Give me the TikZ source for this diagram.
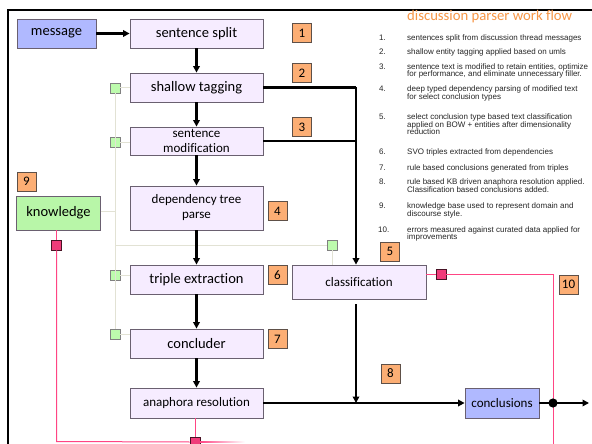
\documentclass[tikz,border=0pt]{standalone}
\usepackage{fontspec}
\setmainfont{Carlito}[Ligatures=NoCommon]
\newfontfamily\arialf{Liberation Sans}
\usetikzlibrary{arrows.meta,calc}
\definecolor{procfill}{HTML}{F6ECFF}
\definecolor{procdraw}{HTML}{6A6070}
\definecolor{bluefill}{HTML}{B0B9FF}
\definecolor{greenfill}{HTML}{B8F6A8}
\definecolor{numfill}{HTML}{FCAE74}
\definecolor{numdraw}{HTML}{5E5048}
\definecolor{sqgreen}{HTML}{BDFBAD}
\definecolor{pinkline}{HTML}{FF4584}
\definecolor{pinkfill}{HTML}{F03C7A}
\definecolor{grayline}{HTML}{E2E2D4}
\definecolor{titleor}{HTML}{F79646}
\tikzset{
  x=1pt, y=-1pt,
  proc/.style={draw=procdraw, fill=procfill, line width=0.8pt, inner sep=0pt,
    minimum width=133pt, minimum height=29pt, align=center,
    font=\fontsize{14.5}{16}\selectfont},
  procsm/.style={proc, font=\fontsize{13}{15}\selectfont},
  numbox/.style={draw=numdraw, fill=numfill, line width=0.7pt, inner sep=0pt,
    minimum width=19pt, minimum height=19pt, font=\fontsize{13}{14}\selectfont},
  gsq/.style={draw=gray, fill=sqgreen, line width=0.6pt, inner sep=0pt, minimum size=10pt},
  psq/.style={draw=black!70!pinkfill, fill=pinkfill, line width=0.6pt, inner sep=0pt, minimum size=10pt},
  gline/.style={draw=grayline, line width=1pt},
  pline/.style={draw=pinkline, line width=1pt},
  flow/.style={draw=black, line width=2.5pt},
  flowarr/.style={flow, -{Triangle[length=6.5pt,width=6.5pt]}, shorten >=0pt},
  listtxt/.style={anchor=base west, inner sep=0pt, text=black!85, font=\arialf\fontsize{8}{8}\selectfont},
}
\begin{document}
\begin{tikzpicture}
\useasboundingbox (0,0) rectangle (592,444);
\clip (0,0) rectangle (592,444);
\fill[white] (0,0) rectangle (592,444);
% frame
\draw[line width=2.5pt] (8,480) -- (8,10) -- (620,10);

% process nodes
\node[proc, minimum width=79pt, fill=bluefill] (message) at (56.5,33.5) {message};
\node[proc] (split) at (196.5,33.5) {sentence split};
\node[proc] (shallow) at (196.5,87.5) {shallow tagging};
\node[procsm, minimum height=28pt] (modif) at (196.5,141) {sentence\\modification};
\node[procsm, minimum height=44pt] (dep) at (196.5,208) {dependency tree\\parse};
\node[proc] (triple) at (196.5,279.5) {triple extraction};
\node[proc] (concl) at (196.5,343.5) {concluder};
\node[procsm, minimum height=30pt] (anaph) at (196.5,403) {anaphora resolution};
\node[procsm, minimum width=134pt, minimum height=34pt] (classif) at (359,282) {classification};
\node[procsm, minimum width=74pt, minimum height=30pt, fill=bluefill] (conclusions) at (502,403) {conclusions};
\node[proc, minimum width=84pt, minimum height=34pt, fill=greenfill] (knowledge) at (58.5,213) {knowledge};

% number boxes
\node[numbox] (n1) at (302,33) {1};
\node[numbox] (n2) at (302,73) {2};
\node[numbox] (n3) at (302,127) {3};
\node[numbox] (n4) at (277.5,211) {4};
\node[numbox] (n5) at (390,251.5) {5};
\node[numbox] (n6) at (277.5,275) {6};
\node[numbox] (n7) at (277.5,339) {7};
\node[numbox] (n8) at (390.5,373.5) {8};
\node[numbox] (n9) at (26.5,181.5) {9};
\node[numbox] (n10) at (568.5,284.5) {10};

% gray connectors and green squares
\node[gsq] (g1) at (115,88) {};
\node[gsq] (g2) at (115,142) {};
\node[gsq] (g3) at (115,275) {};
\node[gsq] (g4) at (115,334) {};
\node[gsq] (g5) at (332,245) {};
\coordinate (gj) at (115,245);
\coordinate (gk) at (115,211);
\draw[gline] (g1.south) -- (g4.north);
\draw[gline] (g1.east) -- (shallow.west |- g1);
\draw[gline] (g2.east) -- (modif.west |- g2);
\draw[gline] (g3.east) -- (triple.west |- g3);
\draw[gline] (g4.east) -- (concl.west |- g4);
\draw[gline] (knowledge.east |- gk) -- (gk);
\draw[gline] (gj) -- (g5.west);
\draw[gline] (g5.south) -- (g5 |- classif.north);

% pink connectors
\coordinate (pk) at (56.5,441.5);
\coordinate (pr) at (553,274);
\coordinate (pb) at (553,460);
\node[psq] (p1) at (56.5,245) {};
\node[psq] (p2) at (195,442) {};
\node[psq] (p3) at (441,274) {};
\draw[pline] (knowledge.south -| pk) -- (p1.north);
\draw[pline] (p1.south) -- (pk) -- (p2.west);
\shade[left color=pinkline, right color=white] (200,441) rectangle (245,442);
\draw[pline] (anaph.south -| p2) -- (p2.north);
\draw[pline] (classif.east |- p3) -- (p3.west);
\draw[pline] (p3.east) -- (pr) -- (pb);

% black flow
\draw[flowarr] (message) -- (split);
\draw[flowarr] (split) -- (shallow);
\draw[flowarr] (shallow) -- (modif);
\draw[flowarr] (modif) -- (dep);
\draw[flowarr] (dep) -- (triple);
\draw[flowarr] (triple) -- (concl);
\draw[flowarr] (concl) -- (anaph);
\coordinate (j1) at (356,87.5);
\coordinate (j2) at (356,141);
\coordinate (c1) at (356,304);
\coordinate (c2) at (356,403);
\draw[flow] (shallow.east |- j1) -- (j1);
\draw[flowarr] (j1) -- (j1 |- classif.north);
\draw[flow] (modif.east |- j2) -- (j2);
\draw[flowarr] (c1) -- (c2);
\draw[flowarr] (anaph) -- (conclusions);
\coordinate (dot) at (553,403);
\coordinate (outend) at (589,403);
\draw[flowarr] (conclusions.east) -- (outend);
\fill (dot) circle (4.6pt);

% title and list
\node[anchor=base west, inner sep=0pt, text=titleor, font=\fontsize{14.7}{16}\selectfont] (title) at (407,21) {discussion parser work flow};
\foreach \n/\y in {1/40.2, 2/54.8, 3/69.2, 4/91.5, 5/119.2, 6/154.2, 7/170.2, 8/184.2, 9/208.5}
  \node[listtxt] (num\n) at (379,\y) {\n.};
\node[listtxt] (num10) at (378,232.5) {10.};
\node[listtxt] (l1) at (407,40.2) {sentences split from discussion thread messages};
\node[listtxt] (l2) at (407,54.8) {shallow entity tagging applied based on umls};
\node[listtxt] (l3a) at (407,69.2) {sentence text is modified to retain entities, optimize};
\node[listtxt] (l3b) at (407,76.7) {for performance, and eliminate unnecessary filler.};
\node[listtxt] (l4a) at (407,91.5) {deep typed dependency parsing of modified text};
\node[listtxt] (l4b) at (407,99.2) {for select conclusion types};
\node[listtxt] (l5a) at (407,119.2) {select conclusion type based text classification};
\node[listtxt] (l5b) at (407,127) {applied on BOW + entities after dimensionality};
\node[listtxt] (l5c) at (407,135) {reduction};
\node[listtxt] (l6) at (407,154.2) {SVO triples extracted from dependencies};
\node[listtxt] (l7) at (407,170.2) {rule based conclusions generated from triples};
\node[listtxt] (l8a) at (407,184.2) {rule based KB driven anaphora resolution applied.};
\node[listtxt] (l8b) at (407,192.5) {Classification based conclusions added.};
\node[listtxt] (l9a) at (407,208.5) {knowledge base used to represent domain and};
\node[listtxt] (l9b) at (407,216.8) {discourse style.};
\node[listtxt] (l10a) at (407,232.5) {errors measured against curated data applied for};
\node[listtxt] (l10b) at (407,239.8) {improvements};
\end{tikzpicture}
\end{document}
